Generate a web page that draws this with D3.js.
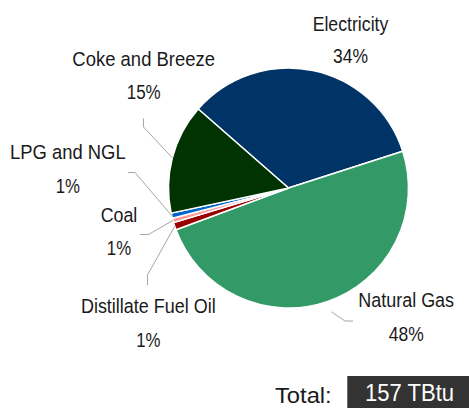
<!DOCTYPE html>
<html>
<head>
<meta charset="utf-8">
<script src="https://cdn.jsdelivr.net/npm/d3@7"></script>
<style>
  html, body { margin: 0; padding: 0; background: #ffffff; }
  svg { display: block; }
  text { font-family: "Liberation Sans Narrow", "Arial Narrow", "Liberation Sans", Arial, sans-serif; fill: #1a1a1a; }
</style>
</head>
<body>
<svg id="chart" width="469" height="408"></svg>
<script>
// ---- data ----
const categories = ["Electricity", "Natural Gas", "Distillate Fuel Oil", "Coal", "LPG and NGL", "Coke and Breeze"];
const shares     = [33.6, 49.3, 1.0, 0.6, 0.7, 14.8];           // slice sizes (% of total)
const pctLabels  = ["34%", "48%", "1%", "1%", "1%", "15%"];      // labels as printed
const colors     = ["#003366", "#339966", "#990000", "#ff9999", "#0066cc", "#003300"];
const totalLabel = "157 TBtu";

// ---- layout ----
const W = 469, H = 408;
const cx = 288.5, cy = 188, R = 120;
const startDeg = -48.8;
const FS = 20.5;
// label anchor (centre x, name baseline, pct baseline), rendered widths, and leader elbow points
const labelLayout = [
  { x: 350.5, y1: 30.7, y2: 63.3, w1: 75.7,  w2: 35,   leader: null },
  { x: 406.2, y1: 306.7, y2: 340.7, w1: 95.7, w2: 35,  leader: { r: 131, pts: [[345, 321], [353, 321]] } },
  { x: 148.3, y1: 312.7, y2: 346.7, w1: 134.7, w2: 24.3, leader: { r: 120, pts: [[147.5, 275], [147.5, 285]] } },
  { x: 119,   y1: 221.7, y2: 255,   w1: 36.6,  w2: 24.3, leader: { r: 120, pts: [[148.5, 234.5], [140, 234.5]] } },
  { x: 67.8,  y1: 159,   y2: 193.3, w1: 115.7, w2: 24.3, leader: { r: 120, pts: [[135, 172.5], [128, 172.5]] } },
  { x: 143.7, y1: 66,    y2: 99.3,  w1: 142.7, w2: 34,   leader: { r: 120, pts: [[143.5, 127], [143.5, 118.5]] } }
];

const svg = d3.select("#chart");
const data = categories.map((c, i) => ({ name: c, value: shares[i], pct: pctLabels[i], color: colors[i], i }));

const pie = d3.pie()
  .value(d => d.value)
  .sort(null)
  .startAngle(startDeg * Math.PI / 180)
  .endAngle((startDeg + 360) * Math.PI / 180);

const arcs = pie(data);
const arc = d3.arc().innerRadius(0).outerRadius(R);

const g = svg.append("g").attr("transform", `translate(${cx},${cy})`);
g.selectAll("path.slice")
  .data(arcs)
  .join("path")
  .attr("class", "slice")
  .attr("d", arc)
  .attr("fill", d => d.data.color)
  .attr("stroke", "#ffffff")
  .attr("stroke-width", 1.5)
  .attr("stroke-linejoin", "round");

// leader lines
arcs.forEach(a => {
  const L = labelLayout[a.data.i].leader;
  if (!L) return;
  const mid = (a.startAngle + a.endAngle) / 2;
  const p0 = [cx + L.r * Math.sin(mid), cy - L.r * Math.cos(mid)];
  const pts = [p0].concat(L.pts);
  svg.append("path")
    .attr("d", d3.line()(pts))
    .attr("fill", "none")
    .attr("stroke", "#a6a6a6")
    .attr("stroke-width", 1);
});

// labels
arcs.forEach(a => {
  const lay = labelLayout[a.data.i];
  svg.append("text")
    .attr("x", lay.x).attr("y", lay.y1)
    .attr("text-anchor", "middle")
    .attr("font-size", FS)
    .attr("textLength", lay.w1)
    .attr("lengthAdjust", "spacingAndGlyphs")
    .text(a.data.name);
  svg.append("text")
    .attr("x", lay.x).attr("y", lay.y2)
    .attr("text-anchor", "middle")
    .attr("font-size", FS)
    .attr("textLength", lay.w2)
    .attr("lengthAdjust", "spacingAndGlyphs")
    .text(a.data.pct);
});

// total box
svg.append("text")
  .attr("x", 331.7).attr("y", 403.3)
  .attr("text-anchor", "end")
  .attr("font-size", 22)
  .attr("textLength", 56.7)
  .attr("lengthAdjust", "spacingAndGlyphs")
  .text("Total:");
svg.append("rect")
  .attr("x", 347.3).attr("y", 376)
  .attr("width", W - 347.3).attr("height", H - 376)
  .attr("fill", "#333333");
svg.append("text")
  .attr("x", 409.5).attr("y", 401)
  .attr("text-anchor", "middle")
  .attr("font-size", 23)
  .attr("textLength", 89)
  .attr("lengthAdjust", "spacingAndGlyphs")
  .style("fill", "#ffffff")
  .text(totalLabel);
</script>
</body>
</html>
